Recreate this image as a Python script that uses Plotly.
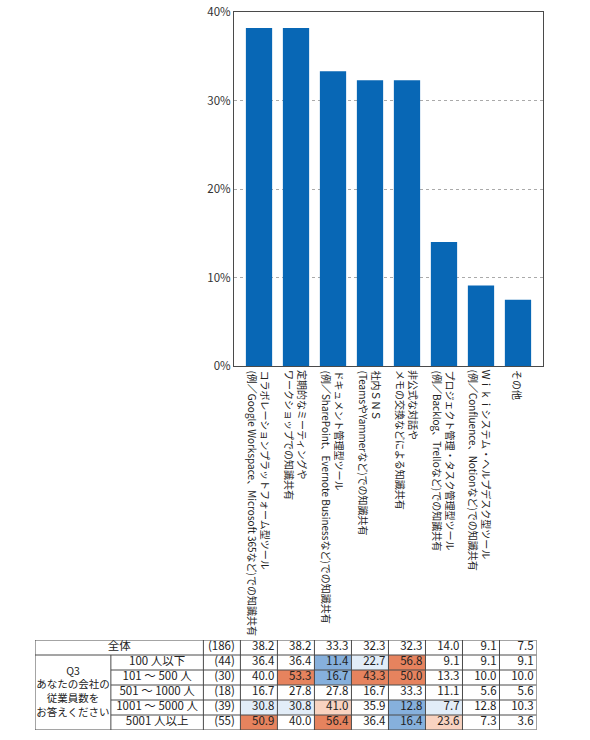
import plotly.graph_objects as go

# ---------------- data ----------------
categories = [
    "コラボレーションプラットフォーム型ツール<br>(例／Google Workspace、Microsoft 365など)での知識共有",
    "定期的なミーティングや<br>ワークショップでの知識共有",
    "ドキュメント管理型ツール<br>(例／SharePoint、Evernote Businessなど)での知識共有",
    "社内ＳＮＳ<br>(TeamsやYammerなど)での知識共有",
    "非公式な対話や<br>メモの交換などによる知識共有",
    "プロジェクト管理・タスク管理型ツール<br>(例／Backlog、Trelloなど)での知識共有",
    "Ｗｉｋｉシステム・ヘルプデスク型ツール<br>(例／Confluence、Notionなど)での知識共有",
    "その他",
]
overall = [38.2, 38.2, 33.3, 32.3, 32.3, 14.0, 9.1, 7.5]
overall_n = 186
overall_label = "全体"

group_title = "Q3<br>あなたの会社の<br>従業員数を<br>お答えください"
group_labels = ["100 人以下", "101 ～ 500 人", "501 ～ 1000 人", "1001 ～ 5000 人", "5001 人以上"]
group_n = [44, 30, 18, 39, 55]
g_100 = [36.4, 36.4, 11.4, 22.7, 56.8, 9.1, 9.1, 9.1]
g_500 = [40.0, 53.3, 16.7, 43.3, 50.0, 13.3, 10.0, 10.0]
g_1000 = [16.7, 27.8, 27.8, 16.7, 33.3, 11.1, 5.6, 5.6]
g_5000 = [30.8, 30.8, 41.0, 35.9, 12.8, 7.7, 12.8, 10.3]
g_5001 = [50.9, 40.0, 56.4, 36.4, 16.4, 23.6, 7.3, 3.6]
group_values = [g_100, g_500, g_1000, g_5000, g_5001]

y_ticks = [0, 10, 20, 30, 40]

# ---------------- style ----------------
W, H = 590, 740
FONT = "Noto Sans CJK JP"
BAR_COLOR = "#0867b5"
LINE = "#4a4a4a"
TXT = "#222222"
C_DOWN2, C_DOWN1, C_NONE, C_UP1, C_UP2 = "#86b0dc", "#e2edf8", "#ffffff", "#f8d3c1", "#e6835e"


def px_x(p):
    return p / W


def px_y(p):
    return 1 - p / H


def cls(v, base, n):
    if n < 30:
        return 0
    d = round(v - base, 1)
    if d >= 10:
        return 2
    if d >= 5:
        return 1
    if d <= -10:
        return -2
    if d <= -5:
        return -1
    return 0


fig = go.Figure()

# ---------------- bar chart ----------------
xs = list(range(len(categories)))
fig.add_trace(go.Bar(x=xs, y=overall, marker=dict(color=BAR_COLOR, line=dict(width=0)),
                     width=0.71, xaxis="x", yaxis="y", hoverinfo="skip"))

annotations = []
for i, c in enumerate(categories):
    annotations.append(dict(x=i, xref="x", y=px_y(366), yref="paper", text=c,
                            textangle=90, xanchor="center", yanchor="top", align="left",
                            showarrow=False, yshift=-2,
                            font=dict(family=FONT, size=10, color=TXT)))

# ---------------- table ----------------
rows_vals = [overall] + group_values
rows_n = [overall_n] + group_n
z = [[cls(v, overall[j], rows_n[r]) if r > 0 else 0 for j, v in enumerate(row)]
     for r, row in enumerate(rows_vals)]
cscale = [[0, C_DOWN2], [0.2, C_DOWN2], [0.2, C_DOWN1], [0.4, C_DOWN1], [0.4, C_NONE],
          [0.6, C_NONE], [0.6, C_UP1], [0.8, C_UP1], [0.8, C_UP2], [1, C_UP2]]
fig.add_trace(go.Heatmap(z=z, x=xs, y=list(range(len(rows_vals))), colorscale=cscale,
                         zmin=-2.5, zmax=2.5, showscale=False, xaxis="x2", yaxis="y2",
                         hoverinfo="skip"))

# column geometry (table axis units; value columns are 1 unit wide)
N_LEFT, N_RIGHT = -1.5, -0.5
SUB_LEFT = -4.0
T_LEFT = -6.05
T_RIGHT = len(categories) - 0.5
nrows = len(rows_vals)
PAD = 0.08
TFS = 11.5

# value texts
tx, ty, tt = [], [], []
for r, row in enumerate(rows_vals):
    for j, v in enumerate(row):
        tx.append(j + 0.5 - PAD)
        ty.append(r)
        tt.append(f"{v:.1f}")
for r, n in enumerate(rows_n):
    tx.append(N_RIGHT - 0.15)
    ty.append(r)
    tt.append(f"({n})")
fig.add_trace(go.Scatter(x=tx, y=ty, text=tt, mode="text", textposition="middle left",
                         textfont=dict(family=FONT, size=TFS, color=TXT),
                         xaxis="x2", yaxis="y2", hoverinfo="skip"))

# label texts
lx = [(T_LEFT + N_LEFT) / 2] + [(SUB_LEFT + N_LEFT) / 2] * len(group_labels)
ly = [0] + list(range(1, nrows))
lt = [overall_label] + group_labels
fig.add_trace(go.Scatter(x=lx, y=ly, text=lt, mode="text", textposition="middle center",
                         textfont=dict(family=FONT, size=TFS, color=TXT),
                         xaxis="x2", yaxis="y2", hoverinfo="skip"))
fig.add_trace(go.Scatter(x=[(T_LEFT + SUB_LEFT) / 2], y=[(1 + nrows - 1) / 2], text=[group_title],
                         mode="text", textposition="middle center",
                         textfont=dict(family=FONT, size=10.5, color=TXT),
                         xaxis="x2", yaxis="y2", hoverinfo="skip"))

shapes = []


def hline(y, x0, x1):
    shapes.append(dict(type="line", xref="x2", yref="y2", x0=x0, x1=x1, y0=y, y1=y,
                       line=dict(color=LINE, width=1), layer="above"))


def vline(x, y0, y1):
    shapes.append(dict(type="line", xref="x2", yref="y2", x0=x, x1=x, y0=y0, y1=y1,
                       line=dict(color=LINE, width=1), layer="above"))


hline(-0.5, T_LEFT, T_RIGHT)
hline(0.5, T_LEFT, T_RIGHT)
for r in range(1, nrows - 1):
    hline(r + 0.5, SUB_LEFT, T_RIGHT)
hline(nrows - 0.5, T_LEFT, T_RIGHT)
vline(T_LEFT, -0.5, nrows - 0.5)
vline(SUB_LEFT, 0.5, nrows - 0.5)
vline(N_LEFT, -0.5, nrows - 0.5)
for j in range(len(categories) + 1):
    vline(j - 0.5, -0.5, nrows - 0.5)

# bar plot x range chosen so category pitch equals the table column pitch
X_PAD = 0.676

fig.update_layout(
    width=W, height=H,
    margin=dict(l=0, r=0, t=0, b=0, autoexpand=False),
    paper_bgcolor="white", plot_bgcolor="white",
    showlegend=False,
    shapes=shapes,
    annotations=annotations,
    font=dict(family=FONT, color=TXT),
    xaxis=dict(domain=[px_x(234), px_x(543)],
               range=[-X_PAD, len(categories) - 1 + X_PAD],
               tickvals=xs, showticklabels=False, automargin=False,
               showline=True, linecolor=LINE, linewidth=1, mirror=True,
               showgrid=False, ticks="", anchor="y", fixedrange=True),
    yaxis=dict(domain=[px_y(366), px_y(12)], range=[0, 40],
               tickmode="array", tickvals=y_ticks, ticktext=[f"{t}%" for t in y_ticks],
               tickfont=dict(family=FONT, size=11.5, color="#333333"), automargin=False,
               showline=True, linecolor=LINE, linewidth=1, mirror=True,
               showgrid=True, gridcolor="#aaaaaa", griddash="dot", gridwidth=1,
               zeroline=False, ticks="", anchor="x", fixedrange=True),
    xaxis2=dict(domain=[px_x(35), px_x(536.5)], range=[T_LEFT, T_RIGHT], visible=False,
                anchor="y2", fixedrange=True, automargin=False),
    yaxis2=dict(domain=[px_y(730), px_y(640)], range=[nrows - 0.5, -0.5], visible=False,
                anchor="x2", fixedrange=True, automargin=False),
)

fig.write_html("out.html", config={"displayModeBar": False},
               post_script="document.body.style.margin='0';")
